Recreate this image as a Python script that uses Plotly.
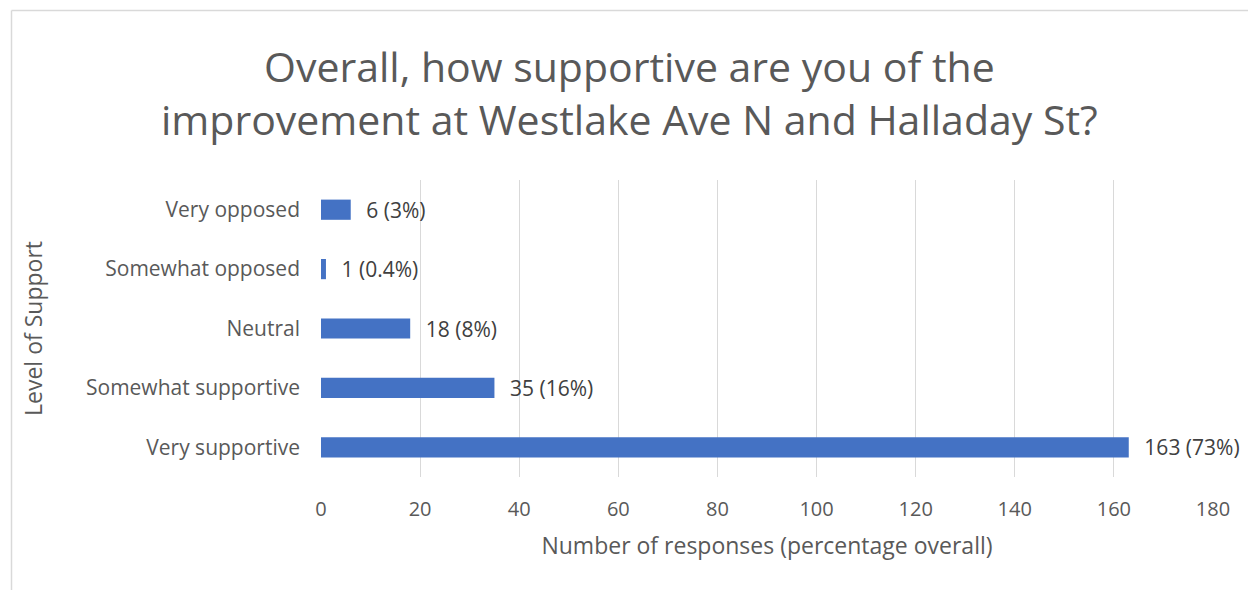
import plotly.graph_objects as go

categories = ["Very supportive", "Somewhat supportive", "Neutral", "Somewhat opposed", "Very opposed"]
counts = [163, 35, 18, 1, 6]
percent_labels = ["73%", "16%", "8%", "0.4%", "3%"]
x_ticks = [0, 20, 40, 60, 80, 100, 120, 140, 160, 180]

labels = ["\u2002\u200a" + f"{c} ({p})" for c, p in zip(counts, percent_labels)]

OFF = 8  # browser body margin
W, H = 1256 - OFF, 590 - OFF
# plot area in window pixels
L, R, T, B = 321 - OFF, 1213 - OFF, 180 - OFF, 477 - OFF

FONT = "Open Sans"
GREY = "#595959"


def px_x(px):
    return (px - OFF - L) / (R - L)


def px_y(py):
    return (B - (py - OFF)) / (B - T)


fig = go.Figure(go.Bar(
    y=categories, x=counts, orientation="h",
    marker=dict(color="#4472C4", line=dict(width=0)),
    width=0.34,
    text=labels, textposition="outside", cliponaxis=False, constraintext="none",
    textfont=dict(family=FONT, size=21, color="#404040"),
))

fig.update_layout(
    width=W, height=H,
    margin=dict(l=L, r=W - R, t=T, b=H - B, pad=0),
    plot_bgcolor="white", paper_bgcolor="white",
    showlegend=False,
    xaxis=dict(
        range=[0, 180], tickvals=x_ticks, showgrid=True, gridcolor="#d9d9d9", gridwidth=1.3,
        zeroline=False, showline=False, ticks="", ticklabelstandoff=18,
        tickfont=dict(family=FONT, size=20, color=GREY),
        title=dict(text="Number of responses (percentage overall)",
                   font=dict(family=FONT, size=23, color=GREY), standoff=16),
    ),
    yaxis=dict(
        categoryorder="array", categoryarray=categories,
        showgrid=False, zeroline=False, showline=False, ticks="", ticklabelstandoff=20,
        tickfont=dict(family=FONT, size=21, color=GREY),
        title=dict(text="Level of Support", font=dict(family=FONT, size=23, color=GREY), standoff=36),
    ),
    annotations=[dict(
        text="Overall, how supportive are you of the<br>improvement at Westlake Ave N and Halladay St?",
        xref="paper", yref="paper", x=px_x(629), y=px_y(93),
        xanchor="center", yanchor="middle", showarrow=False,
        font=dict(family=FONT, size=41, color=GREY),
    )],
    shapes=[
        dict(type="line", xref="paper", yref="paper",
             x0=px_x(11.5), x1=px_x(11.5), y0=px_y(10.5), y1=px_y(600),
             line=dict(color="#d9d9d9", width=1.5)),
        dict(type="line", xref="paper", yref="paper",
             x0=px_x(11.5), x1=px_x(1270), y0=px_y(10.5), y1=px_y(10.5),
             line=dict(color="#d9d9d9", width=1.5)),
    ],
)

fig.write_html("out.html")
